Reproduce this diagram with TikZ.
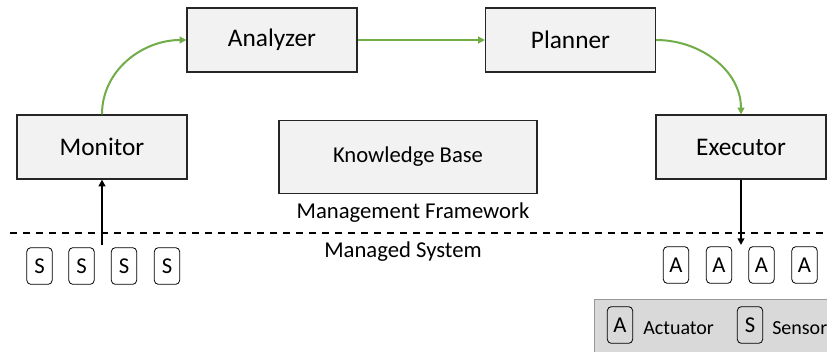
\documentclass[tikz,border=0pt]{standalone}
\usepackage{fontspec}
\setmainfont{Carlito}
\usetikzlibrary{arrows.meta}
\definecolor{loopgreen}{HTML}{70AD47}
\definecolor{boxgray}{HTML}{F2F2F2}
\definecolor{legendgray}{HTML}{D9D9D9}
\tikzset{
  phase/.style={draw=black!85, fill=boxgray, line width=0.9pt, minimum width=127.5pt,
    minimum height=48pt, inner sep=0pt, font=\fontsize{19}{22}\selectfont},
  probe/.style={draw=black, rounded corners=3pt, line width=0.6pt, minimum width=19pt,
    minimum height=27.5pt, inner sep=0pt, font=\fontsize{17}{20}\selectfont},
  label/.style={inner sep=0pt, font=\fontsize{17}{20}\selectfont},
  loop/.style={draw=loopgreen, line width=1.5pt, -{Triangle[length=5pt,width=5pt]}},
  link/.style={draw=black, line width=1.5pt, -{Triangle[length=5pt,width=5pt]}}
}
\begin{document}
\begin{tikzpicture}[x=0.75pt,y=-0.75pt]
        \useasboundingbox (0,0) rectangle (827,351);
        \clip (0,0) rectangle (827,351);
        % MAPE-K boxes
        \node[phase] (mon) at (102,147) {Monitor};
        \node[phase] (ana) at (272,40) {Analyzer};
        \node[phase] (pla) at (570.5,40) {Planner};
        \node[phase] (exe) at (741,147) {Executor};
        \node[phase, minimum width=193.5pt, minimum height=54.75pt,
          font=\fontsize{17}{20}\selectfont] (kb) at (408,157) {Knowledge Base};
        % boundary
        \coordinate (cutL) at (10,233);
        \coordinate (cutR) at (827,233);
        \draw[line width=1pt, dash pattern=on 5.25pt off 4.5pt] (cutL) -- (cutR);
        \node[label] (mf) at (413,213) {Management Framework};
        \node[label] (ms) at (403,252) {Managed System};
        % sensors and actuators
        \foreach \x [count=\i] in {39.5,81.5,124,167}
          \node[probe] (s\i) at (\x,266) {S};
        \foreach \x [count=\i] in {676,719,761.5,804.5}
          \node[probe] (a\i) at (\x,265) {A};
        \coordinate (sens) at (102,245);
        \coordinate (act) at (741,245);
        \draw[link] (sens) -- (mon.south);
        \draw[link] (exe.south) -- (act);
        % loop
        \draw[loop] (mon.north) to[out=90,in=180] (ana.west);
        \draw[loop] (ana) -- (pla);
        \draw[loop] (pla.east) to[out=0,in=90] (exe.north);
        % legend
        \node[draw=black!40, fill=legendgray, line width=0.8pt, anchor=north west,
          minimum width=180pt, minimum height=45pt] (leg) at (594,299) {};
        \node[probe] (la) at (620,325) {A};
        \node[label, anchor=west, font=\fontsize{15}{18}\selectfont] (lat) at (643,328) {Actuator};
        \node[probe] (ls) at (750,325) {S};
        \node[label, anchor=west, font=\fontsize{15}{18}\selectfont] (lst) at (772,328) {Sensor};
\end{tikzpicture}
\end{document}
